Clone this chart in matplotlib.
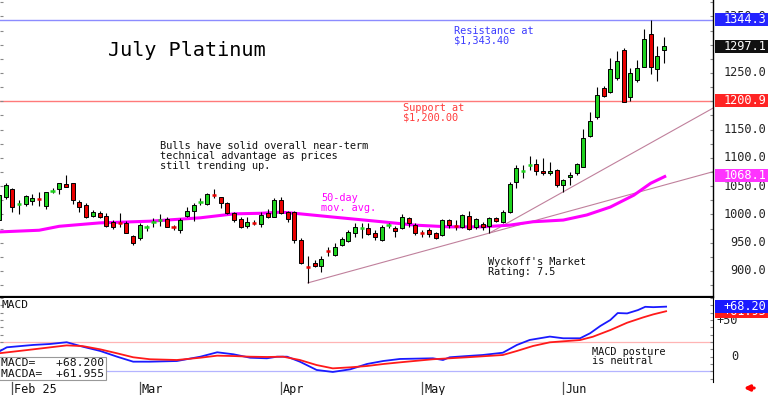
import matplotlib
matplotlib.use("Agg")
import matplotlib.pyplot as plt
import matplotlib.transforms as mtransforms
from matplotlib.patches import Rectangle

plt.rcParams['font.family'] = ['DejaVu Sans Mono', 'DejaVu Sans']

# daily bars, index 0 = Jan 30 2025
OPENS = [990, 1031, 1045, 1018, 1018, 1024, 1028, 1015, 1041, 1045,
         1054, 1056, 1022, 1017, 997, 1003, 997, 987, 986, 985,
         962, 959, 978, 986, 990, 992, 979, 973, 997, 1006,
         1021, 1019, 1035, 1031, 1020, 1002, 992, 980, 986, 983,
         1002, 995, 1025, 1004, 1004, 955, 907, 914, 909, 935,
         929, 946, 953, 967, 976, 976, 967, 955, 981, 976,
         976, 994, 981, 968, 972, 967, 964, 990, 981, 978,
         997, 978, 983, 980, 994, 987, 1004, 1057, 1077, 1086,
         1089, 1077, 1073, 1079, 1052, 1066, 1073, 1084, 1139, 1173,
         1223, 1216, 1241, 1291, 1208, 1238, 1261, 1319, 1257, 1290]
HIGHS = [1036, 1055, 1047, 1026, 1034, 1036, 1040, 1040, 1046, 1056,
         1070, 1056, 1026, 1020, 1008, 1006, 1002, 990, 1002, 988,
         964, 985, 982, 993, 1000, 995, 981, 994, 1013, 1020,
         1029, 1038, 1045, 1031, 1022, 1004, 995, 995, 990, 1004,
         1010, 1029, 1031, 1006, 1006, 958, 927, 919, 927, 943,
         950, 960, 973, 985, 985, 985, 972, 981, 985, 980,
         1001, 996, 985, 972, 976, 969, 992, 992, 990, 1001,
         1006, 994, 987, 996, 996, 1008, 1058, 1088, 1088, 1103,
         1098, 1100, 1093, 1081, 1063, 1075, 1091, 1151, 1181, 1225,
         1227, 1277, 1288, 1294, 1259, 1273, 1328, 1343, 1298, 1314]
LOWS = [984, 1028, 1004, 1000, 1014, 1017, 1015, 1010, 1038, 1036,
        1049, 1019, 1004, 994, 995, 994, 978, 975, 978, 967,
        946, 955, 970, 978, 980, 978, 973, 967, 995, 988,
        1017, 1017, 1029, 1011, 1000, 987, 976, 976, 981, 978,
        994, 995, 1000, 987, 950, 912, 879, 907, 898, 927,
        927, 944, 951, 960, 958, 964, 955, 953, 976, 960,
        974, 978, 964, 960, 960, 956, 962, 976, 972, 976,
        973, 974, 973, 967, 987, 985, 1002, 1047, 1064, 1079,
        1070, 1070, 1070, 1049, 1040, 1052, 1070, 1084, 1137, 1168,
        1207, 1215, 1238, 1199, 1201, 1234, 1261, 1249, 1236, 1268]
CLOSES = [1034, 1052, 1013, 1019, 1032, 1029, 1027, 1040, 1042, 1055,
          1049, 1026, 1013, 996, 1004, 996, 980, 978, 985, 967,
          950, 981, 979, 987, 991, 978, 978, 990, 1006, 1017,
          1022, 1036, 1034, 1020, 1002, 990, 978, 987, 985, 999,
          995, 1025, 1002, 992, 955, 914, 906, 909, 921, 934,
          943, 957, 969, 978, 977, 965, 960, 978, 982, 971,
          995, 985, 967, 967, 965, 958, 990, 981, 979, 999,
          974, 992, 978, 994, 989, 1004, 1054, 1082, 1078, 1087,
          1077, 1073, 1077, 1052, 1061, 1070, 1089, 1135, 1165, 1211,
          1209, 1257, 1271, 1199, 1250, 1259, 1310, 1261, 1280, 1297]

# 50-day moving average, read at bar positions
MA50_IDX = [0, 6, 9, 15, 22.5, 30, 35, 39, 42, 44, 50, 57, 62, 67, 72, 76,
            79.5, 84, 87.5, 91, 94.5, 97, 99.3]
MA50_VAL = [969, 972, 979, 985, 988, 994, 1001, 1002, 1004, 1002, 995, 987,
            981, 978, 978, 981, 987, 990, 999, 1013, 1034, 1055, 1068.1]

MACD_IDX = [0, 1.2, 5.1, 7.6, 10.1, 12.5, 15.1, 17.6, 20, 22.5, 26.5, 30, 32.5,
            34.9, 37.4, 39.9, 41.4, 42.9, 44.8, 47.3, 49.7, 52.3, 54.8, 57.2,
            59.7, 64.6, 66.1, 67.1, 69.7, 72, 75, 77.1, 79, 82, 84, 86.5, 88,
            89.5, 91, 92.1, 93.5, 95.1, 96.2, 97.4, 99.3]
MACD_VAL = [6.8, 12.8, 16.0, 17.3, 19.7, 13.6, 7.8, 0.0, -6.8, -6.8, -5.9, 0.0,
            6.0, 3.3, -1.4, -2.2, 0.0, 0.0, -6.8, -18.1, -20.8, -17.2, -9.9,
            -5.9, -3.1, -2.2, -4.5, -0.8, 0.9, 2.3, 5.4, 16.0, 22.8, 27.4, 25.1,
            25.1, 32.0, 41.8, 50.0, 59.5, 59.0, 63.5, 68.0, 67.5, 68.2]
SIGNAL_IDX = [0, 5.1, 10.1, 12.5, 15.1, 17.6, 20, 22.5, 26.5, 30, 32.5, 34.9,
              37.4, 39.9, 42.3, 44.8, 47.3, 49.7, 52.3, 54.8, 57.2, 59.7, 64.6,
              69.7, 75, 77.1, 79.5, 82, 86.5, 88.4, 91, 93.5, 95.9, 97.4, 99.3]
SIGNAL_VAL = [4.6, 10.0, 15.4, 14.4, 10.0, 4.6, -0.8, -3.5, -4.5, -1.4, 1.4, 0.9,
              0.0, -0.4, 0.0, -4.5, -11.4, -15.9, -14.5, -12.7, -10.0, -7.7,
              -3.5, -0.8, 2.3, 7.8, 14.6, 19.6, 22.7, 27.2, 36.3, 46.3, 53.6,
              57.7, 61.955]

MONTH_IDX = [2, 21, 42, 63, 84]
MONTH_LABELS = ["Feb 25", "Mar", "Apr", "May", "Jun"]

# 1200.0 and 1300.0 sit under the value boxes, so they are not drawn
PRICE_TICKS = [900, 950, 1000, 1050, 1100, 1150, 1250, 1350]
MACD_TICKS = [0, 50]

RESISTANCE = 1344.3
SUPPORT = 1200.9
LAST_CLOSE = 1297.1
LAST_MA = 1068.1
MACD_LAST = 68.200
MACDA_LAST = 61.955
MACD_BANDS = [20, -20]

TREND_A = [(46, 879), (73, 967)]
TREND_B = [(73, 967), (84, 1040)]

GREEN = "#1ed21e"
RED = "#e80000"
MAGENTA = "#ff00ff"

W, H = 768, 395
X_LEFT, X_RIGHT = 1.2 / 6.72, 714.2 / 6.72


def fpx(x, y):
    return x / W, 1 - y / H


fig = plt.figure(figsize=(W / 100, H / 100), dpi=100)
ax1 = fig.add_axes([0, (H - 297) / H, 713 / W, 297 / H])
ax2 = fig.add_axes([0, (H - 382) / H, 713 / W, 84 / H])

# ---- price panel ----
for i, (o, h, l, c) in enumerate(zip(OPENS, HIGHS, LOWS, CLOSES)):
    ax1.vlines(i, l, h, color="black", lw=0.8, zorder=3)
    if abs(c - o) <= 2:
        col = GREEN if c >= o else RED
        ax1.hlines((o + c) / 2, i - 0.32, i + 0.32, color=col, lw=1.8, zorder=4)
    else:
        col = GREEN if c > o else RED
        ax1.add_patch(Rectangle((i - 0.3, min(o, c)), 0.6, abs(c - o),
                                fc=col, ec="black", lw=0.7, zorder=4))

ax1.plot(MA50_IDX, MA50_VAL, color=MAGENTA, lw=2.2, zorder=2,
         solid_capstyle="butt")

for (x0, y0), (x1, y1) in (TREND_A, TREND_B):
    slope = (y1 - y0) / (x1 - x0)
    ax1.plot([x0, X_RIGHT], [y0, y0 + slope * (X_RIGHT - x0)],
             color="#c0809c", lw=0.8, zorder=1.5)

ax1.axhline(RESISTANCE, color="#8c8cff", lw=1, zorder=1)
ax1.axhline(SUPPORT, color="#ff7a7a", lw=1, zorder=1)

ax1.set_xlim(X_LEFT, X_RIGHT)
ax1.set_ylim(854, 1379)
ax1.set_xticks([])
ax1.set_yticks(range(875, 1376, 25))
ax1.tick_params(axis="y", which="both", left=True, right=True, direction="in",
                length=2.5, color="#888888", labelleft=False, labelright=False)
for s in ("top", "left"):
    ax1.spines[s].set_visible(False)
ax1.spines["right"].set_color("black")
ax1.spines["right"].set_linewidth(1.0)
ax1.spines["bottom"].set_linewidth(1.6)

blend1 = mtransforms.blended_transform_factory(ax1.transAxes, ax1.transData)
for t in PRICE_TICKS:
    ax1.text(766 / 713, t, f"{t:.1f}", ha="right", va="center", fontsize=8.6,
             color="#222222", transform=blend1, clip_on=False, zorder=5)


def value_box(ax, blend, val, text, fc, height, zorder):
    ax.add_patch(Rectangle((715 / 713, val - height / 2), 53 / 713, height,
                           transform=blend, fc=fc, ec="none", clip_on=False,
                           zorder=zorder))
    ax.text(766 / 713, val, text, ha="right", va="center", fontsize=8.6,
            color="white", transform=blend, clip_on=False, zorder=zorder + 0.1)


value_box(ax1, blend1, RESISTANCE, f"{RESISTANCE:.1f}", "#2424ff", 23, 6)
value_box(ax1, blend1, LAST_CLOSE, f"{LAST_CLOSE:.1f}", "#111111", 23, 6)
value_box(ax1, blend1, SUPPORT, f"{SUPPORT:.1f}", "#ff2424", 23, 6)
value_box(ax1, blend1, LAST_MA, f"{LAST_MA:.1f}", "#ff33ff", 23, 6)

# ---- MACD panel ----
ax2.plot(MACD_IDX, MACD_VAL, color="#1a1aff", lw=1.3, zorder=3)
ax2.plot(SIGNAL_IDX, SIGNAL_VAL, color="#ff1a1a", lw=1.3, zorder=3)
ax2.axhline(MACD_BANDS[0], color="#ffb4b4", lw=0.9, zorder=1)
ax2.axhline(MACD_BANDS[1], color="#b4b4ff", lw=0.9, zorder=1)
ax2.set_xlim(X_LEFT, X_RIGHT)
ax2.set_ylim(-34.5, 80)
ax2.set_xticks([])
ax2.set_yticks(range(-30, 81, 10))
ax2.tick_params(axis="y", which="both", left=True, right=True, direction="in",
                length=2.5, color="#888888", labelleft=False, labelright=False)
for s in ("top", "left", "bottom"):
    ax2.spines[s].set_visible(False)
ax2.spines["right"].set_color("black")

blend2 = mtransforms.blended_transform_factory(ax2.transAxes, ax2.transData)
for t in MACD_TICKS:
    ax2.text(738 / 713, t, f"+{t}" if t > 0 else f"{t}", ha="right", va="center",
             fontsize=8.6, color="#222222", transform=blend2, clip_on=False)
value_box(ax2, blend2, MACDA_LAST, f"+{MACDA_LAST:.2f}", "#ff1a1a", 17.7, 6)
value_box(ax2, blend2, MACD_LAST, f"+{MACD_LAST:.2f}", "#1a1aff", 17.7, 7)

# month ticks under MACD panel
blend_x = mtransforms.blended_transform_factory(ax2.transData, ax2.transAxes)
for idx, lab in zip(MONTH_IDX, MONTH_LABELS):
    ax2.plot([idx, idx], [0, -0.16], color="#555555", lw=0.9,
             transform=blend_x, clip_on=False)
    ax2.text(idx + 0.3, -0.085, lab, ha="left", va="center", fontsize=8.5,
             color="#111111", transform=blend_x, clip_on=False)

# ---- texts ----
fig.text(*fpx(108, 50), "July Platinum", fontsize=14.5, ha="left", va="center")
fig.text(*fpx(454, 36), "Resistance at\n$1,343.40", fontsize=7.4,
         color="#3c3cff", ha="left", va="center", linespacing=0.97)
fig.text(*fpx(403, 113), "Support at\n$1,200.00", fontsize=7.4,
         color="#ff3c3c", ha="left", va="center", linespacing=0.97)
fig.text(*fpx(160, 156),
         "Bulls have solid overall near-term\ntechnical advantage as prices\n"
         "still trending up.", fontsize=7.4, color="#111111", ha="left",
         va="center", linespacing=0.97)
fig.text(*fpx(321, 203), "50-day\nmov. avg.", fontsize=7.4, color=MAGENTA,
         ha="left", va="center", linespacing=0.97)
fig.text(*fpx(488, 267), "Wyckoff's Market\nRating: 7.5", fontsize=7.4,
         color="#111111", ha="left", va="center", linespacing=0.97)
fig.text(*fpx(592, 356.5), "MACD posture\nis neutral", fontsize=7.4,
         color="#111111", ha="left", va="center", linespacing=0.97)
fig.text(*fpx(1, 305), "MACD", fontsize=8, color="#111111", ha="left",
         va="center")
fig.text(*fpx(1, 368.5), f"MACD=   +{MACD_LAST:.3f}\nMACDA=  +{MACDA_LAST:.3f}",
         fontsize=8.2, color="#111111", ha="left", va="center",
         linespacing=1.05, zorder=8,
         bbox=dict(boxstyle="square,pad=0.15", fc="white", ec="#999999",
                   lw=0.8))

# red arrow bottom right
ax2.annotate("", xy=fpx(741, 388), xycoords="figure fraction",
             xytext=fpx(757, 388), textcoords="figure fraction",
             arrowprops=dict(arrowstyle="-|>", color="red", lw=2.2,
                             mutation_scale=8), annotation_clip=False)

fig.savefig("out.png", dpi=100)
